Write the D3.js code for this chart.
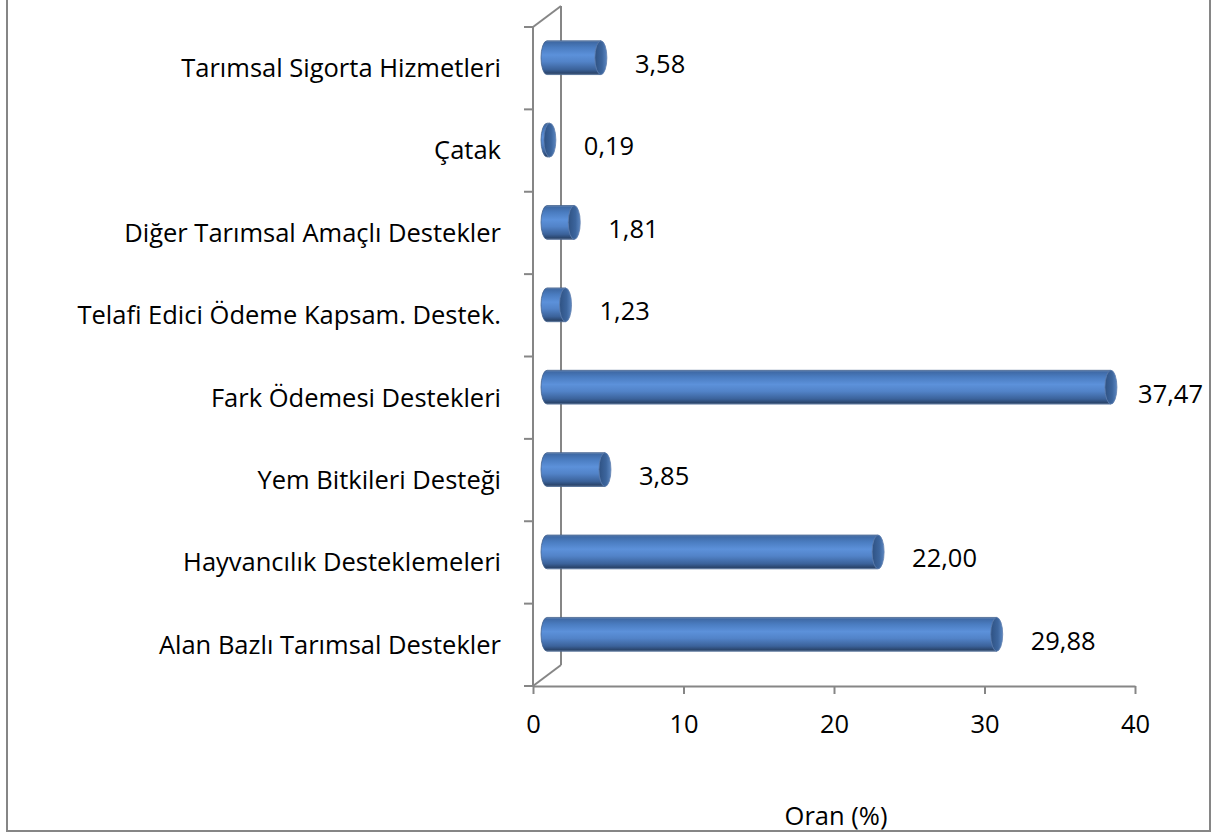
<!DOCTYPE html>
<html>
<head>
<meta charset="utf-8">
<script src="https://cdn.jsdelivr.net/npm/d3@7"></script>
<style>
  html, body { margin: 0; padding: 0; background: #fff; }
  svg { display: block; }
  text { font-family: "Open Sans", "Liberation Sans", sans-serif; fill: #000; }
</style>
</head>
<body>
<svg id="chart" width="1213" height="838"></svg>
<script>
// ---- data (bottom to top, as in the chart) ----
const categories = [
  "Alan Bazlı Tarımsal Destekler",
  "Hayvancılık Desteklemeleri",
  "Yem Bitkileri Desteği",
  "Fark Ödemesi Destekleri",
  "Telafi Edici Ödeme Kapsam. Destek.",
  "Diğer Tarımsal Amaçlı Destekler",
  "Çatak",
  "Tarımsal Sigorta Hizmetleri"
];
const values = [29.88, 22.00, 3.85, 37.47, 1.23, 1.81, 0.19, 3.58];
const valueLabels = ["29,88", "22,00", "3,85", "37,47", "1,23", "1,81", "0,19", "3,58"];
const xTicks = [0, 10, 20, 30, 40];
const xTickLabels = ["0", "10", "20", "30", "40"];
const axisTitle = "Oran (%)";

// ---- layout ----
const svg = d3.select("#chart");
const plot = { left: 533, right: 1135, top: 27, bottom: 686 };
const depth = { dx: 28, dy: -21 };        // 3D wall depth
const mid = { dx: depth.dx / 2, dy: depth.dy / 2 };
const fontSize = 25.5;
const axisColor = "#868686";

const x = d3.scaleLinear().domain([0, 40]).range([plot.left, plot.right]);
const y = d3.scaleBand().domain(categories).range([plot.bottom, plot.top])
  .paddingInner(0.59).paddingOuter(0.295);
const step = y.step();
const catCenter = c => y(c) + y.bandwidth() / 2;

// outer border
svg.append("rect").attr("x", 7).attr("y", -3).attr("width", 1203).attr("height", 834)
  .attr("fill", "#fff").attr("stroke", axisColor).attr("stroke-width", 2);

// gradients
const defs = svg.append("defs");
const g1 = defs.append("linearGradient").attr("id", "body").attr("x1", 0).attr("y1", 0).attr("x2", 0).attr("y2", 1);
[[0, "#6f8db5"], [0.05, "#3f6aa6"], [0.2, "#4a7cc0"], [0.42, "#5c91da"], [0.62, "#5283c8"],
 [0.85, "#3b629a"], [0.96, "#2a456c"], [1, "#6a7d96"]]
  .forEach(([o, c]) => g1.append("stop").attr("offset", o).attr("stop-color", c));
const g2 = defs.append("linearGradient").attr("id", "cap").attr("x1", 0).attr("y1", 0).attr("x2", 1).attr("y2", 0);
[[0, "#2f5283"], [0.6, "#3c659d"], [1, "#5b86c0"]]
  .forEach(([o, c]) => g2.append("stop").attr("offset", o).attr("stop-color", c));

// back wall lines (behind bars)
const walls = svg.append("g").attr("stroke", axisColor).attr("stroke-width", 2).attr("fill", "none");
walls.append("line").attr("x1", plot.left + depth.dx).attr("y1", plot.top + depth.dy)
  .attr("x2", plot.left + depth.dx).attr("y2", plot.bottom + depth.dy);
walls.append("line").attr("x1", plot.left).attr("y1", plot.top)
  .attr("x2", plot.left + depth.dx).attr("y2", plot.top + depth.dy);
walls.append("line").attr("x1", plot.left).attr("y1", plot.bottom)
  .attr("x2", plot.left + depth.dx).attr("y2", plot.bottom + depth.dy);
walls.append("line").attr("x1", plot.left).attr("y1", plot.top)
  .attr("x2", plot.left).attr("y2", plot.bottom);

// category ticks on the front wall
const boundaries = d3.range(categories.length + 1).map(i => plot.bottom - i * step);
walls.selectAll("line.tk").data(boundaries).join("line").attr("class", "tk")
  .attr("x1", plot.left - 9).attr("x2", plot.left).attr("y1", d => d).attr("y2", d => d);

// x axis
const xAxis = d3.axisBottom(x).tickValues(xTicks).tickSize(8).tickSizeOuter(0)
  .tickFormat((d, i) => xTickLabels[i]);
const ax = svg.append("g").attr("transform", `translate(0,${plot.bottom})`).call(xAxis);
ax.select(".domain").attr("stroke", axisColor).attr("stroke-width", 2);
ax.selectAll(".tick line").attr("stroke", axisColor).attr("stroke-width", 2);
ax.selectAll(".tick text").attr("font-size", fontSize).attr("font-family", null)
  .attr("y", 38).attr("dy", "0.35em").attr("fill", "#000");

// cylinders
const rx = 6;
const bh = y.bandwidth();
const bars = svg.append("g");
categories.forEach((c, i) => {
  const cy = catCenter(c) + mid.dy;
  const x0 = x(0) + mid.dx;
  const x1 = x(values[i]) + mid.dx;
  const top = cy - bh / 2, bot = cy + bh / 2;
  const gB = bars.append("g");
  gB.append("path")
    .attr("d", `M${x0},${top} L${x1},${top} L${x1},${bot} L${x0},${bot} A${rx},${bh / 2} 0 0 1 ${x0},${top} Z`)
    .attr("fill", "url(#body)").attr("stroke", "#41618e").attr("stroke-width", 0.8);
  gB.append("ellipse").attr("cx", x1).attr("cy", cy).attr("rx", rx).attr("ry", bh / 2)
    .attr("fill", "url(#cap)").attr("stroke", "#5f7fae").attr("stroke-width", 0.8);
});

// value labels
const labelsG = svg.append("g");
categories.forEach((c, i) => {
  const t = labelsG.append("text")
    .attr("font-size", fontSize)
    .attr("y", catCenter(c) - 4).attr("dy", "0.35em")
    .text(valueLabels[i]);
  const w = t.node().getComputedTextLength();
  const px = Math.min(x(values[i]) + mid.dx + rx + 28, 1203 - w);
  t.attr("x", px);
});

// category labels
svg.append("g").selectAll("text").data(categories).join("text")
  .attr("x", 501).attr("y", d => catCenter(d)).attr("dy", "0.35em")
  .attr("text-anchor", "end").attr("font-size", fontSize).text(d => d);

// axis title
svg.append("text").attr("x", (plot.left + plot.right) / 2 + 2).attr("y", 816).attr("dy", "0.35em")
  .attr("text-anchor", "middle").attr("font-size", fontSize).text(axisTitle);
</script>
</body>
</html>
